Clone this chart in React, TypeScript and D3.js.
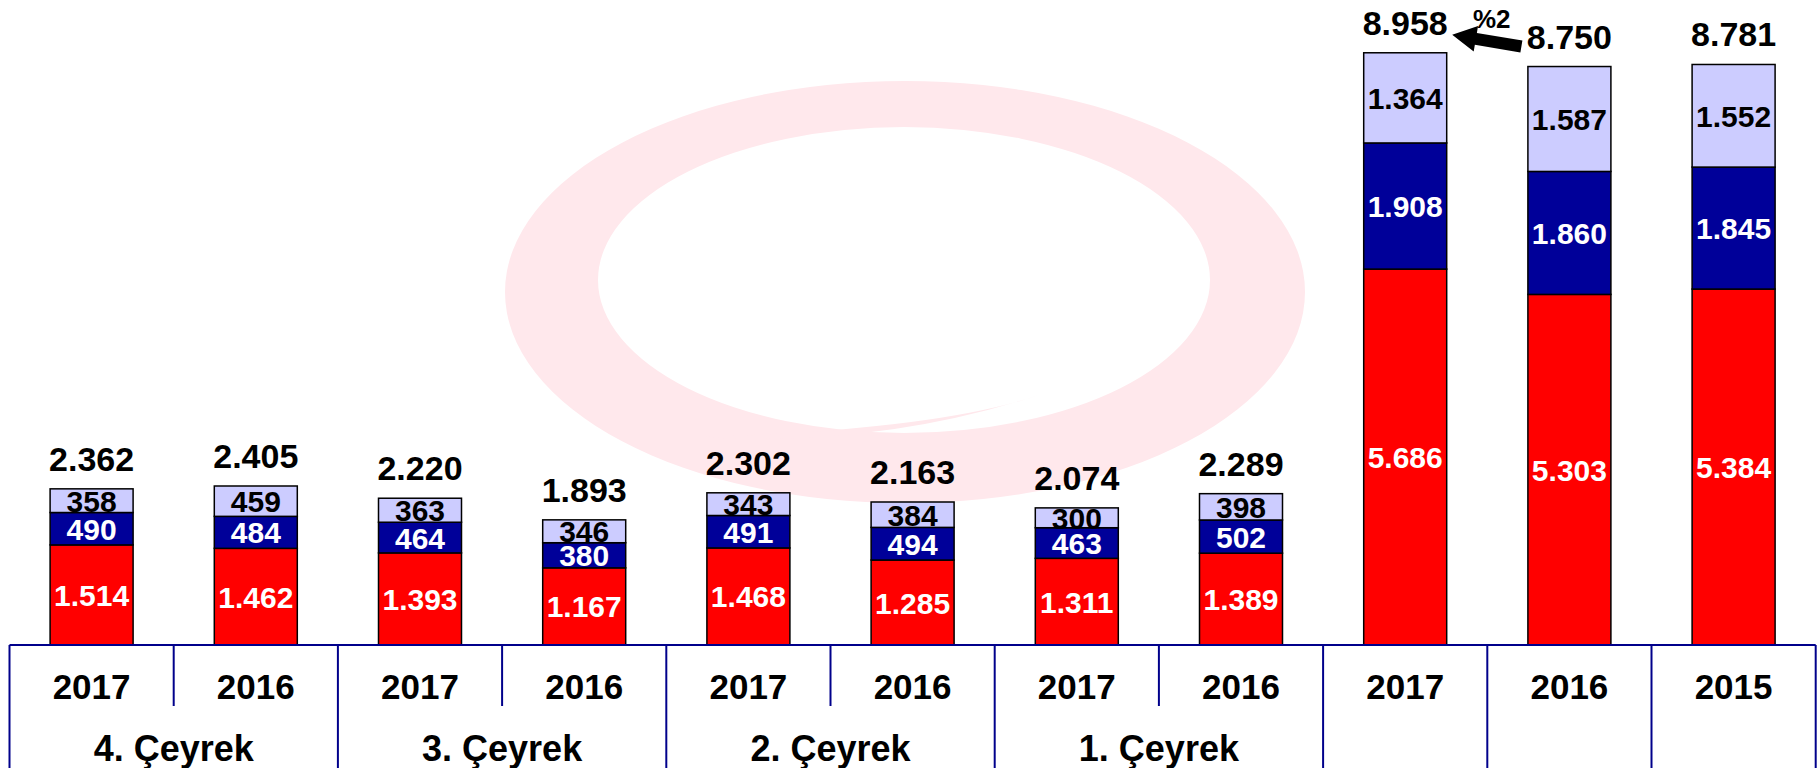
import React from "react";
import * as d3 from "d3";

const categories = ["2017", "2016", "2017", "2016", "2017", "2016", "2017", "2016", "2017", "2016", "2015"];
const quarters = ["4. Çeyrek", "3. Çeyrek", "2. Çeyrek", "1. Çeyrek"];
const redValues = [1514, 1462, 1393, 1167, 1468, 1285, 1311, 1389, 5686, 5303, 5384];
const blueValues = [490, 484, 464, 380, 491, 494, 463, 502, 1908, 1860, 1845];
const lilacValues = [358, 459, 363, 346, 343, 384, 300, 398, 1364, 1587, 1552];
const totals = [2362, 2405, 2220, 1893, 2302, 2163, 2074, 2289, 8958, 8750, 8781];
const changeLabel = "%2";

const W = 1817;
const H = 768;
const AXIS_Y = 645;
const FONT = "'Liberation Sans', Arial, sans-serif";
const NAVY = "#00008B";

const locale = d3.formatLocale({ decimal: ",", thousands: ".", grouping: [3], currency: ["", ""] });
const fmt = locale.format(",d");

export default function App() {
  const idx = categories.map((_, i) => i);
  const x = d3.scaleBand<number>().domain(idx).range([9.5, 1815.7]).paddingInner(0).paddingOuter(0);
  const y = d3.scaleLinear().domain([0, 9000]).range([AXIS_Y, 50]);
  const bw = x.bandwidth();
  const barW = 83;

  const series = [
    { values: redValues, fill: "#FF0000", text: "#FFFFFF" },
    { values: blueValues, fill: "#000099", text: "#FFFFFF" },
    { values: lilacValues, fill: "#CCCCFF", text: "#000000" },
  ];

  const stacks = idx.map((i) => {
    let acc = 0;
    return series.map((s) => {
      const y0 = acc;
      acc += s.values[i];
      return { y0, y1: acc, v: s.values[i], fill: s.fill, text: s.text };
    });
  });

  const cx = (i: number) => (x(i) as number) + bw / 2;
  const totalCenterY = (i: number) => y(totals[i]) - 30;

  // arrow annotation between 2017 and 2016 annual totals
  const tip: [number, number] = [cx(8) + 47, totalCenterY(8) + 12];
  const tail: [number, number] = [cx(9) - 48, totalCenterY(9) + 10];
  const dx = tip[0] - tail[0];
  const dy = tip[1] - tail[1];
  const len = Math.hypot(dx, dy);
  const ux = dx / len, uy = dy / len;
  const nx = -uy, ny = ux;
  const headLen = 24, shaftHW = 6, headHW = 13;
  const hb: [number, number] = [tip[0] - ux * headLen, tip[1] - uy * headLen];
  const arrowPts: [number, number][] = [
    [tail[0] + nx * shaftHW, tail[1] + ny * shaftHW],
    [hb[0] + nx * shaftHW, hb[1] + ny * shaftHW],
    [hb[0] + nx * headHW, hb[1] + ny * headHW],
    tip,
    [hb[0] - nx * headHW, hb[1] - ny * headHW],
    [hb[0] - nx * shaftHW, hb[1] - ny * shaftHW],
    [tail[0] - nx * shaftHW, tail[1] - ny * shaftHW],
  ];
  const arrowPath = "M" + arrowPts.map((p) => p.join(",")).join("L") + "Z";
  const midA: [number, number] = [(tip[0] + tail[0]) / 2, (tip[1] + tail[1]) / 2];

  // watermark swirl
  const ell = (cxe: number, cye: number, rx: number, ry: number) =>
    `M${cxe - rx},${cye} A${rx},${ry} 0 1,0 ${cxe + rx},${cye} A${rx},${ry} 0 1,0 ${cxe - rx},${cye} Z`;
  const ring = ell(905, 292, 400, 211) + " " + ell(904, 280, 306, 153);
  const tailPath = "M1042,394 Q940,430 700,437 Q880,448 1042,394 Z";

  const boundaries = d3.range(0, categories.length + 1);
  const shortDividers = new Set([1, 3, 5, 7]);

  return (
    <svg width={W} height={H} style={{ position: "absolute", left: 0, top: 0, background: "#fff" }} fontFamily={FONT}>
      <rect x={0} y={0} width={W} height={H} fill="#fff" />
      <path d={ring} fill="#FFE8EC" fillRule="evenodd" />
      <path d={tailPath} fill="#FFE8EC" />

      {stacks.map((st, i) => (
        <g key={i}>
          {st.map((seg, k) => (
            <rect
              key={k}
              x={cx(i) - barW / 2}
              y={y(seg.y1)}
              width={barW}
              height={y(seg.y0) - y(seg.y1)}
              fill={seg.fill}
              stroke="#000"
              strokeWidth={1.5}
            />
          ))}
          {st.map((seg, k) => (
            <text
              key={"t" + k}
              x={cx(i)}
              y={(y(seg.y0) + y(seg.y1)) / 2 + 11}
              textAnchor="middle"
              fontSize={30}
              fontWeight="bold"
              fill={seg.text}
            >
              {fmt(seg.v)}
            </text>
          ))}
          <text x={cx(i)} y={totalCenterY(i) + 12} textAnchor="middle" fontSize={34} fontWeight="bold" fill="#000">
            {fmt(totals[i])}
          </text>
        </g>
      ))}

      <path d={arrowPath} fill="#000" />
      <text x={midA[0] + 5} y={midA[1] - 13} textAnchor="middle" fontSize={26} fontWeight="bold" fill="#000">
        {changeLabel}
      </text>

      <line x1={9.5} x2={1815.7} y1={AXIS_Y} y2={AXIS_Y} stroke={NAVY} strokeWidth={2} />
      {boundaries.map((b) => {
        const bx = b < categories.length ? (x(b) as number) : (x(categories.length - 1) as number) + bw;
        return (
          <line
            key={"d" + b}
            x1={bx}
            x2={bx}
            y1={AXIS_Y}
            y2={shortDividers.has(b) ? 706 : H}
            stroke={NAVY}
            strokeWidth={2}
          />
        );
      })}
      {categories.map((c, i) => (
        <text key={"c" + i} x={cx(i)} y={699} textAnchor="middle" fontSize={35} fontWeight="bold" fill="#000">
          {c}
        </text>
      ))}
      {quarters.map((q, j) => (
        <text
          key={"q" + j}
          x={((x(2 * j) as number) + (x(2 * j + 1) as number) + bw) / 2}
          y={761}
          textAnchor="middle"
          fontSize={36}
          fontWeight="bold"
          fill="#000"
        >
          {q}
        </text>
      ))}
    </svg>
  );
}
